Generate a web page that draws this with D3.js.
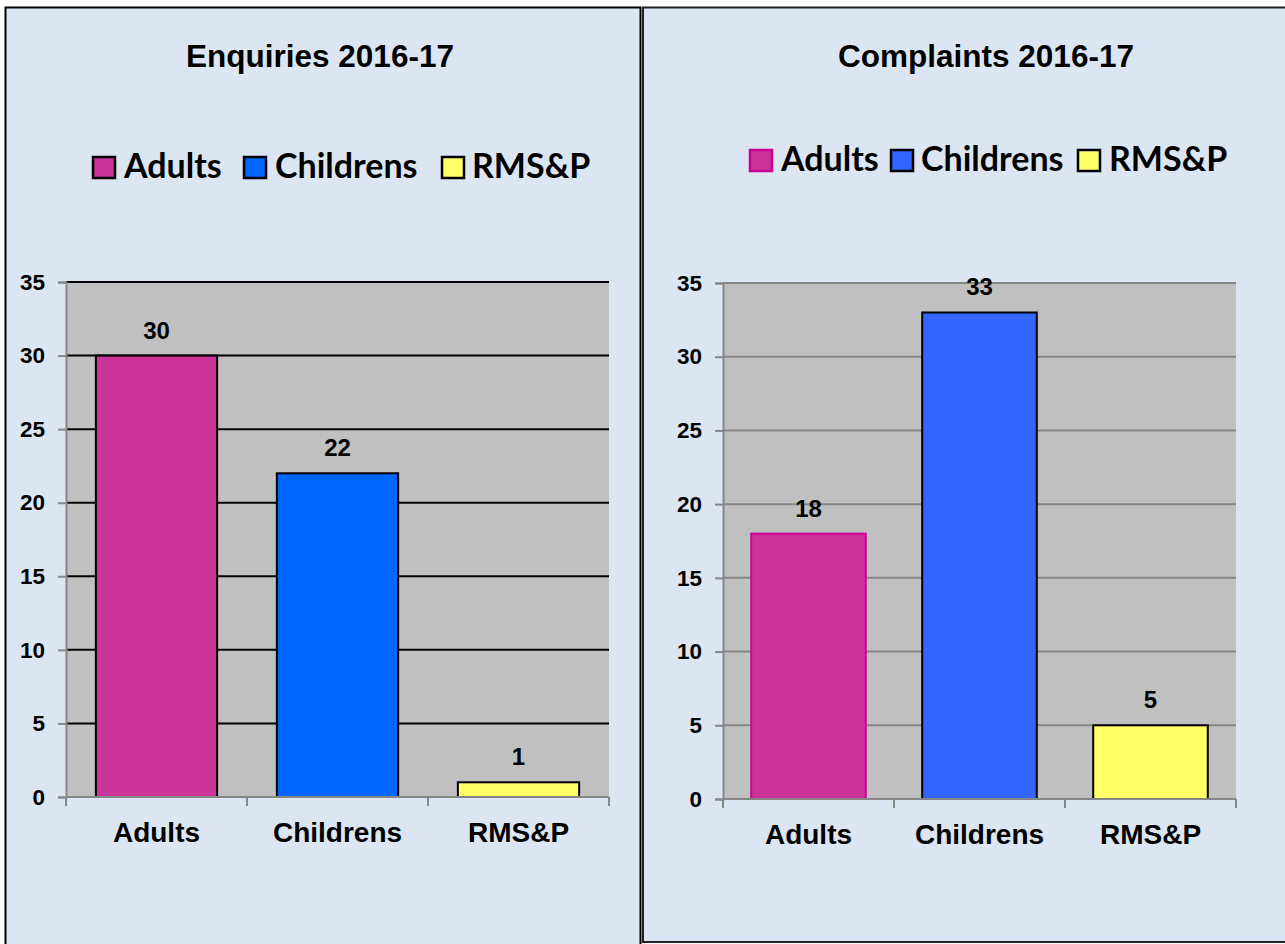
<!DOCTYPE html>
<html>
<head>
<meta charset="utf-8">
<script src="https://cdn.jsdelivr.net/npm/d3@7"></script>
<style>
  html, body { margin: 0; padding: 0; background: #ffffff; }
  svg { display: block; }
</style>
</head>
<body>
<svg id="chart" width="1285" height="944"></svg>
<script>
// Categories shared by both charts
const categories = ["Adults", "Childrens", "RMS&P"];

// Counts per category
const enquiryValues = [30, 22, 1];
const complaintValues = [18, 33, 5];

// Y-axis ticks
const yTicks = [0, 5, 10, 15, 20, 25, 30, 35];

// Chart titles
const titles = ["Enquiries 2016-17", "Complaints 2016-17"];

const svg = d3.select("#chart");

const panels = [
  {
    title: titles[0],
    values: enquiryValues,
    box: { x: 5.5, y: 7.5, w: 635, h: 950 },
    boxStroke: "#000",
    titleX: 320, titleY: 67,
    legend: [
      { sx: 93, tx: 124 }, { sx: 244, tx: 275 }, { sx: 442, tx: 472 }
    ],
    legendY: 167,
    plot: { x0: 66, x1: 609, y0: 797, y1: 282 },
    fills: ["#cc3399", "#0066ff", "#ffff66"],
    strokes: ["#000", "#000", "#000"],
    gridColor: "#000",
    tickLabelX: 45
  },
  {
    title: titles[1],
    values: complaintValues,
    box: { x: 643, y: 7.5, w: 650, h: 934.5 },
    boxStroke: "#222",
    titleX: 986, titleY: 67,
    legend: [
      { sx: 750, tx: 781 }, { sx: 891, tx: 921 }, { sx: 1078, tx: 1109 }
    ],
    legendY: 160,
    plot: { x0: 723, x1: 1236, y0: 799, y1: 283 },
    fills: ["#cc3399", "#3366ff", "#ffff66"],
    strokes: ["#cc0099", "#000", "#000"],
    gridColor: "#868686",
    tickLabelX: 702
  }
];

panels.forEach(p => {
  const g = svg.append("g");

  // panel background and frame
  g.append("rect")
    .attr("x", p.box.x).attr("y", p.box.y)
    .attr("width", p.box.w).attr("height", p.box.h)
    .attr("fill", "#dce6f2")
    .attr("stroke", p.boxStroke).attr("stroke-width", 2);

  // title
  g.append("text")
    .attr("x", p.titleX).attr("y", p.titleY)
    .attr("text-anchor", "middle")
    .attr("font-family", "Liberation Sans, Arial, sans-serif")
    .attr("font-weight", "bold").attr("font-size", 31.5)
    .attr("fill", "#000")
    .text(p.title);

  // legend
  categories.forEach((c, i) => {
    const L = p.legend[i];
    g.append("rect")
      .attr("x", L.sx).attr("y", p.legendY - 10)
      .attr("width", 22).attr("height", 21)
      .attr("fill", p.fills[i])
      .attr("stroke", p.strokes[i]).attr("stroke-width", 2.5);
    g.append("text")
      .attr("x", L.tx).attr("y", p.legendY + 11)
      .attr("font-family", "Lato, sans-serif")
      .attr("font-weight", "bold").attr("font-size", 34)
      .attr("fill", "#000")
      .text(c);
  });

  // scales
  const x = d3.scaleBand()
    .domain(categories)
    .range([p.plot.x0, p.plot.x1])
    .paddingInner(0.33)
    .paddingOuter(0.165);

  const y = d3.scaleLinear()
    .domain([0, 35])
    .range([p.plot.y0, p.plot.y1]);

  // plot area
  g.append("rect")
    .attr("x", p.plot.x0).attr("y", y(35))
    .attr("width", p.plot.x1 - p.plot.x0)
    .attr("height", y(0) - y(35))
    .attr("fill", "#c0c0c0");

  // gridlines
  g.selectAll(".grid")
    .data(yTicks.filter(t => t > 0))
    .join("line")
    .attr("x1", p.plot.x0).attr("x2", p.plot.x1)
    .attr("y1", d => y(d)).attr("y2", d => y(d))
    .attr("stroke", p.gridColor).attr("stroke-width", 2);

  // y axis
  const yAxis = d3.axisLeft(y)
    .tickValues(yTicks)
    .tickSize(8)
    .tickPadding(p.plot.x0 - 8 - p.tickLabelX);
  const ya = g.append("g")
    .attr("transform", `translate(${p.plot.x0},0)`)
    .call(yAxis);
  ya.select(".domain").attr("stroke", "#868686").attr("stroke-width", 2);
  ya.selectAll(".tick line").attr("stroke", "#868686").attr("stroke-width", 2);
  ya.selectAll(".tick text")
    .attr("font-family", "Liberation Sans, Arial, sans-serif")
    .attr("font-weight", "bold").attr("font-size", 22.5)
    .attr("fill", "#000");

  // bars
  g.selectAll(".bar")
    .data(p.values)
    .join("rect")
    .attr("x", (d, i) => x(categories[i]))
    .attr("y", d => y(d))
    .attr("width", x.bandwidth())
    .attr("height", d => y(0) - y(d))
    .attr("fill", (d, i) => p.fills[i])
    .attr("stroke", (d, i) => p.strokes[i])
    .attr("stroke-width", 2);

  // value labels
  g.selectAll(".val")
    .data(p.values)
    .join("text")
    .attr("x", (d, i) => x(categories[i]) + x.bandwidth() / 2)
    .attr("y", d => y(d) - 17)
    .attr("text-anchor", "middle")
    .attr("font-family", "Liberation Sans, Arial, sans-serif")
    .attr("font-weight", "bold").attr("font-size", 24)
    .attr("fill", "#000")
    .text(d => d);

  // x axis with ticks at category boundaries
  const xa = g.append("g");
  xa.append("line")
    .attr("x1", p.plot.x0).attr("x2", p.plot.x1)
    .attr("y1", y(0)).attr("y2", y(0))
    .attr("stroke", "#868686").attr("stroke-width", 2);
  const half = x.step() * x.paddingInner() / 2;
  const bounds = categories.map(c => x(c) - half).concat([x(categories[2]) + x.bandwidth() + half]);
  xa.selectAll(".xt")
    .data(bounds)
    .join("line")
    .attr("x1", d => d).attr("x2", d => d)
    .attr("y1", y(0)).attr("y2", y(0) + 9)
    .attr("stroke", "#868686").attr("stroke-width", 2);
  xa.selectAll(".xl")
    .data(categories)
    .join("text")
    .attr("x", c => x(c) + x.bandwidth() / 2)
    .attr("y", y(0) + 45)
    .attr("text-anchor", "middle")
    .attr("font-family", "Liberation Sans, Arial, sans-serif")
    .attr("font-weight", "bold").attr("font-size", 28)
    .attr("fill", "#000")
    .text(c => c);
});
</script>
</body>
</html>
